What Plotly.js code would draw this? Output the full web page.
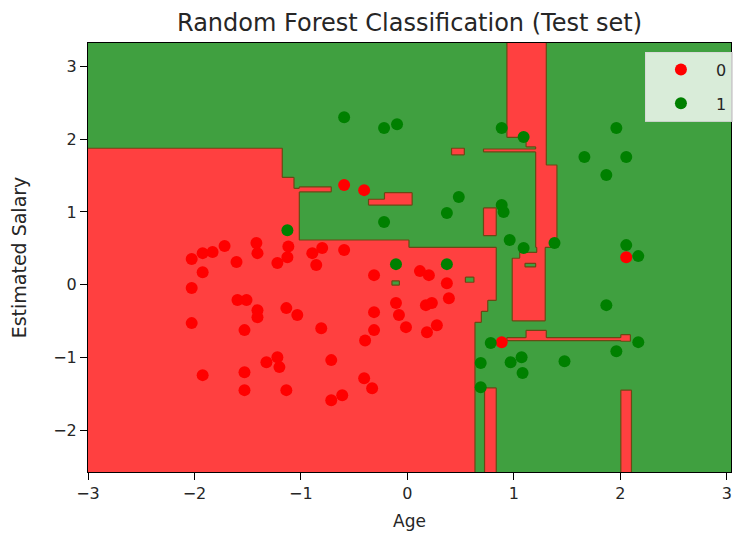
<!DOCTYPE html>
<html>
<head>
<meta charset="utf-8">
<script src="https://cdn.plot.ly/plotly-3.0.1.min.js"></script>
<style>
  html, body { margin: 0; padding: 0; background: #fff; }
  #chart { width: 737px; height: 535px; }
</style>
</head>
<body>
<div id="chart"></div>
<script>
// Test-set observations, standardised Age / Estimated Salary
const class0Age = [-2.026,-1.923,-1.830,-1.717,-1.923,-1.605,-1.418,-1.408,-1.221,-1.118,-1.127,-0.893,-0.800,-0.856,-0.594,
  -2.026,-1.596,-1.511,-1.408,-1.408,-1.137,-1.034,-2.026,-1.530,-0.809,-1.324,-1.221,-1.202,-0.715,-1.923,-1.530,-1.530,
  -1.137,-0.715,-0.612,-0.397,-0.406,-0.313,-0.107,-0.079,-0.013,0.174,0.230,0.277,0.184,-0.313,-0.331,-0.313,0.118,0.202,
  0.371,0.390,0.886,-0.406,-0.594,2.056];
const class0Salary = [0.353,0.435,0.449,0.532,0.174,0.312,0.573,0.435,0.298,0.527,0.380,0.435,0.504,0.271,0.477,
  -0.045,-0.210,-0.210,-0.348,-0.444,-0.320,-0.416,-0.526,-0.622,-0.595,-1.062,-0.993,-1.130,-1.034,-1.240,-1.199,-1.446,
  -1.446,-1.584,-1.515,-0.764,-1.282,-0.375,-0.251,-0.416,-0.581,-0.279,-0.251,-0.554,-0.650,-0.622,-1.419,0.133,0.188,0.133,
  0.023,-0.183,-0.788,1.300,1.370,0.380];
const class1Age = [-1.127,-0.594,-0.219,-0.097,0.886,1.092,1.663,1.963,2.056,1.869,0.483,0.371,-0.219,0.886,0.904,0.961,
  1.092,1.382,2.056,2.169,-0.107,0.371,0.783,0.689,0.689,0.970,1.073,1.082,1.476,1.869,1.963,2.169];
const class1Salary = [0.749,2.302,2.152,2.206,2.152,2.029,1.754,2.152,1.754,1.507,1.205,0.985,0.861,1.095,0.999,0.614,
  0.504,0.573,0.545,0.394,0.284,0.284,-0.800,-1.075,-1.405,-1.062,-0.993,-1.212,-1.048,-0.279,-0.911,-0.787];

// Boxes of the feature plane that the forest assigns to class 0
const region0X0 = [-3.05,-1.174,-1.062,-1.015,-1.015,0.015,0.015,0.015,0.015,-0.360,-0.219,0.418,0.717,0.933,1.120,1.204,1.204,1.213,0.989,1.054,0.717,1.120,0.933,2.009,0.727,2.009];
const region0X1 = [-1.174,-1.062,-1.015,-0.715,0.015,0.830,0.755,0.699,0.633,0.043,0.043,0.530,1.204,1.307,1.307,1.307,1.401,1.298,1.298,1.242,0.839,1.307,2.075,2.094,0.839,2.103];
const region0Y0 = [-2.6,-2.6,-2.6,1.273,-2.6,-0.210,-0.361,-0.512,-2.6,1.095,1.177,1.782,1.830,2.029,1.891,1.644,0.518,0.367,-0.499,0.367,0.680,-0.724,-0.766,-0.779,-2.6,-2.6];
const region0Y1 = [1.878,1.479,1.328,1.342,0.614,0.518,-0.210,-0.361,-0.512,1.177,1.260,1.878,1.864,3.4,2.029,1.891,1.644,0.518,0.367,0.449,1.051,-0.622,-0.724,-0.683,-1.419,-1.446];

// Small class-1 pockets inside those boxes
const pocket1X0 = [0.549,-0.144,1.110];
const pocket1X1 = [0.624,-0.079,1.204];
const pocket1Y0 = [0.037,-0.004,0.243];
const pocket1Y1 = [0.106,0.051,0.298];

const ageRange = [-3.0, 3.04];
const salaryRange = [-2.57, 3.32];
const xTicks = [-3, -2, -1, 0, 1, 2, 3];
const yTicks = [-2, -1, 0, 1, 2, 3];

// Prediction grid (0.01 step, like np.meshgrid in the classic example)
const step = 0.01;
const nx = Math.round((ageRange[1] - ageRange[0]) / step) + 1;
const ny = Math.round((salaryRange[1] - salaryRange[0]) / step) + 1;
const gx = Array.from({length: nx}, (_, i) => +(ageRange[0] + i * step).toFixed(3));
const gy = Array.from({length: ny}, (_, j) => +(salaryRange[0] + j * step).toFixed(3));
const z = gy.map(() => new Array(nx).fill(1));

function paint(x0s, x1s, y0s, y1s, val) {
  for (let k = 0; k < x0s.length; k++) {
    for (let j = 0; j < ny; j++) {
      if (gy[j] < y0s[k] || gy[j] > y1s[k]) continue;
      const row = z[j];
      for (let i = 0; i < nx; i++) {
        if (gx[i] >= x0s[k] && gx[i] <= x1s[k]) row[i] = val;
      }
    }
  }
}
paint(region0X0, region0X1, region0Y0, region0Y1, 0);
paint(pocket1X0, pocket1X1, pocket1Y0, pocket1Y1, 1);

const red = '#ff4040', green = '#40a040';

const traces = [
  {
    type: 'heatmap', x: gx, y: gy, z: z, zmin: 0, zmax: 1, zsmooth: false,
    colorscale: [[0, red], [0.5, red], [0.5, green], [1, green]],
    showscale: false, hoverinfo: 'skip', showlegend: false
  },
  {
    type: 'contour', x: gx, y: gy, z: z,
    contours: {start: 0.5, end: 0.5, size: 1, coloring: 'none'},
    line: {color: '#6a4a14', width: 1.2, smoothing: 0},
    showscale: false, hoverinfo: 'skip', showlegend: false
  },
  {
    type: 'scatter', mode: 'markers', name: '0', legendgroup: 'c0',
    x: class0Age, y: class0Salary,
    marker: {color: '#ff0000', size: 12}
  },
  {
    type: 'scatter', mode: 'markers', name: '1', legendgroup: 'c1',
    x: class1Age, y: class1Salary,
    marker: {color: '#008000', size: 12}
  }
];

const axisCommon = {
  ticks: 'outside', ticklen: 7, tickwidth: 1, tickcolor: '#000',
  showline: true, linecolor: '#000', linewidth: 1, mirror: true,
  showgrid: false, zeroline: false, tickfont: {size: 16, color: '#262626'}
};

const layout = {
  width: 737, height: 535,
  margin: {l: 88, r: 4, t: 43, b: 63},
  paper_bgcolor: '#fff', plot_bgcolor: '#fff',
  font: {family: 'DejaVu Sans', color: '#262626', size: 16},
  title: {
    text: 'Random Forest Classification (Test set)',
    font: {size: 24, color: '#262626'},
    x: 0.5, xref: 'paper', xanchor: 'center',
    y: 1 - 23 / 535, yref: 'container', yanchor: 'middle'
  },
  xaxis: Object.assign({}, axisCommon, {
    range: ageRange, tickvals: xTicks,
    title: {text: 'Age', font: {size: 17}, standoff: 12}
  }),
  yaxis: Object.assign({}, axisCommon, {
    range: salaryRange, tickvals: yTicks,
    title: {text: 'Estimated Salary', font: {size: 19}, standoff: 21}
  }),
  showlegend: true,
  legend: {
    x: 1.003, xanchor: 'right', y: 0.98, yanchor: 'top',
    bgcolor: 'rgba(255,255,255,0.8)', bordercolor: 'rgba(215,215,215,0.9)', borderwidth: 1,
    font: {size: 16}, tracegroupgap: 10, itemwidth: 60
  }
};

Plotly.newPlot('chart', traces, layout, {displayModeBar: false, staticPlot: true});
</script>
</body>
</html>
